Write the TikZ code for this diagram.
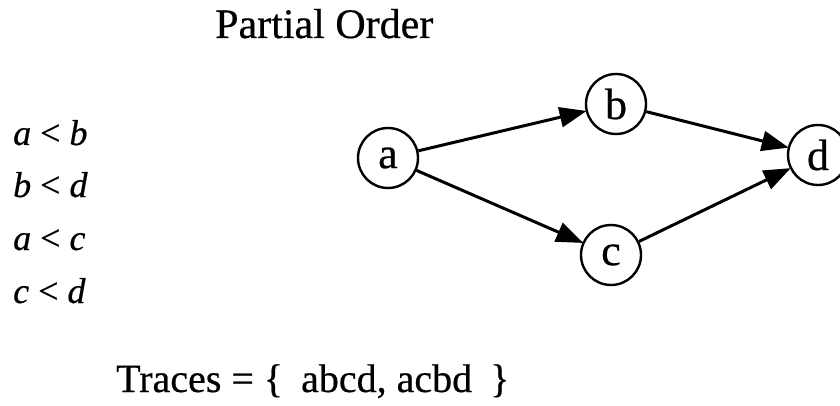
\documentclass[tikz,border=0pt]{standalone}
\usepackage{fontspec}
\setmainfont{Liberation Serif}[FakeBold=0.5]
\usetikzlibrary{arrows.meta}
\begin{document}
\begin{tikzpicture}[x=1pt,y=1pt,
  vertex/.style={draw,circle,line width=2.4pt,minimum size=60pt,inner sep=0pt,
    font=\fontsize{44}{44}\selectfont},
  edge/.style={line width=3pt,-{Triangle[length=27pt,width=20pt]},shorten >=-1pt},
  relation/.style={anchor=base west,inner sep=0pt,font=\fontsize{36}{36}\selectfont\itshape},
  caption/.style={anchor=base west,inner sep=0pt,font=\fontsize{42}{42}\selectfont}]
\useasboundingbox (0,0) rectangle (840,-406);

% title
\node[caption] (title) at (215,-38) {Partial Order};

% order relations
\node[relation] (r1) at (13,-145) {a \upshape<\itshape{} b};
\node[relation] (r2) at (13,-197) {b \upshape<\itshape{} d};
\node[relation] (r3) at (13,-250) {a \upshape<\itshape{} c};
\node[relation] (r4) at (13,-303) {c \upshape<\itshape{} d};

% the order graph
\node[vertex] (a) at (388,-158) {a};
\node[vertex] (b) at (616,-104) {b};
\node[vertex] (c) at (611,-255) {c};
\node[vertex] (d) at (818,-155) {d};

\draw[edge] (a) -- (b);
\draw[edge] (a) -- (c);
\draw[edge] (b) -- (d);
\draw[edge] (c) -- (d);

% traces
\node[caption,font=\fontsize{40}{40}\selectfont] (traces) at (116,-392)
  {Traces = \{\hspace{0.45em}abcd, acbd\hspace{0.45em}\}};
\end{tikzpicture}
\end{document}
